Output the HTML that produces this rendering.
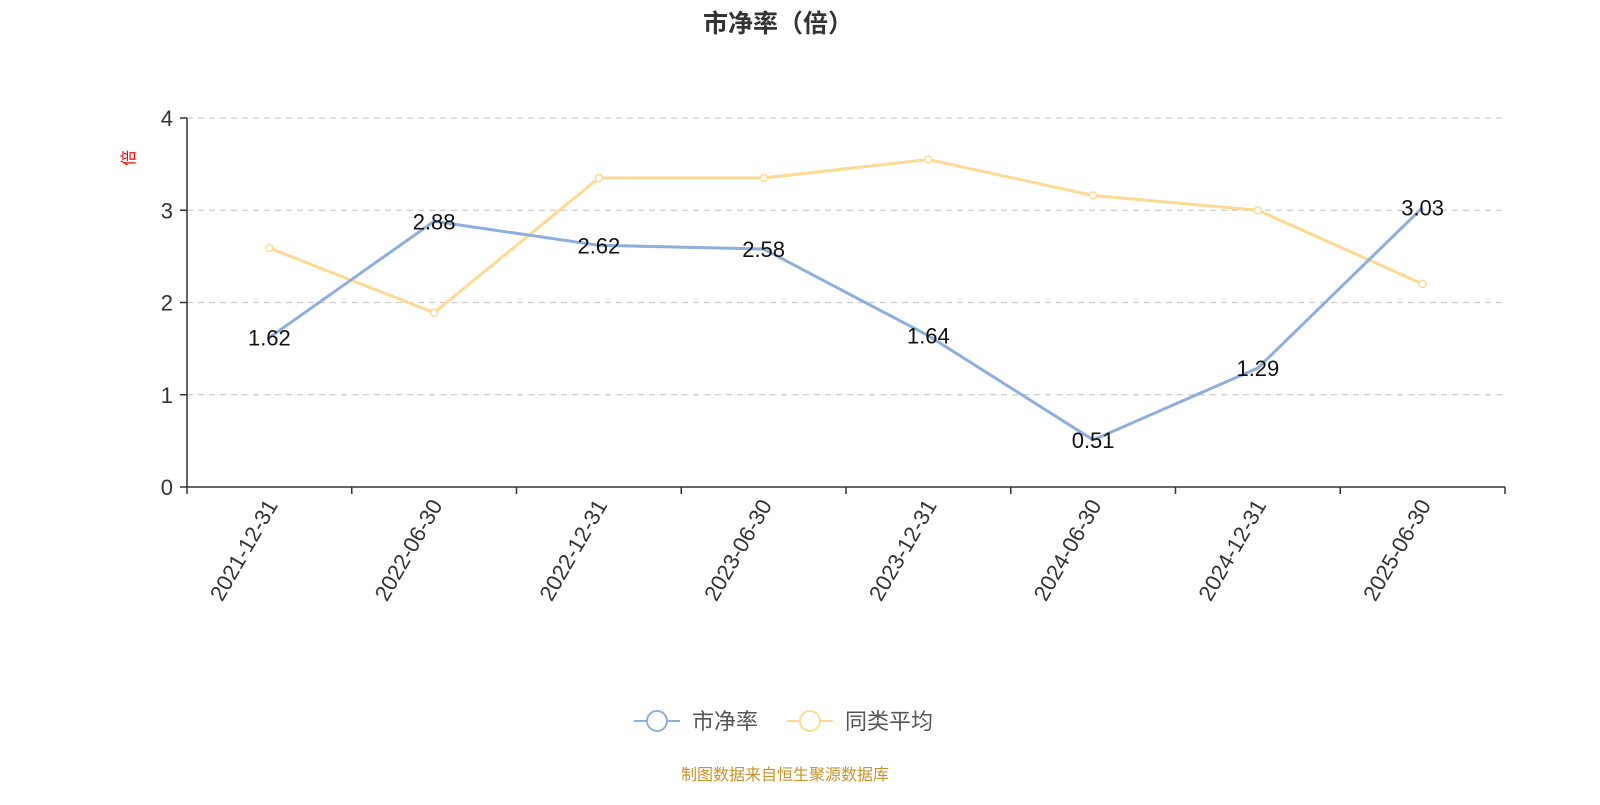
<!DOCTYPE html>
<html><head><meta charset="utf-8"><style>
body{margin:0;background:#fff;}
svg text{font-family:"Liberation Sans","Noto Sans CJK SC",sans-serif;}
</style></head><body>
<svg id="chart" width="1600" height="800" xmlns="http://www.w3.org/2000/svg">
<text x="778" y="32" text-anchor="middle" font-size="25" font-weight="bold" fill="#333">市净率（倍）</text>
<text transform="translate(134,158) rotate(-90)" text-anchor="middle" font-size="16" fill="#f00">倍</text>
<g id="grid"></g><g id="axes"></g><g id="series"></g>
<g>
 <g>
  <line x1="634" y1="721" x2="680" y2="721" stroke="#8eaedc" stroke-width="2"/>
  <circle cx="657" cy="721" r="10" fill="#fff" stroke="#8eaedc" stroke-width="2"/>
  <text x="692" y="729" font-size="22" fill="#555">市净率</text>
 </g>
 <g>
  <line x1="787" y1="721" x2="833" y2="721" stroke="#fdd993" stroke-width="2"/>
  <circle cx="810" cy="721" r="10" fill="#fff" stroke="#fdd993" stroke-width="2"/>
  <text x="845" y="729" font-size="22" fill="#555">同类平均</text>
 </g>
</g>
<text x="785" y="780" text-anchor="middle" font-size="16" fill="#c8922a">制图数据来自恒生聚源数据库</text>
</svg>
<script>
const categories=["2021-12-31","2022-06-30","2022-12-31","2023-06-30","2023-12-31","2024-06-30","2024-12-31","2025-06-30"];
const pbValues=[1.62,2.88,2.62,2.58,1.64,0.51,1.29,3.03];
const avgValues=[2.59,1.89,3.35,3.35,3.55,3.16,3.0,2.2];
const yTicks=[0,1,2,3,4];
const NS="http://www.w3.org/2000/svg";
const x0=187,x1=1505,y0=487,y1=118,yMax=4;
const band=(x1-x0)/categories.length;
const xs=i=>x0+band*(i+0.5);
const ys=v=>y0-(v/yMax)*(y0-y1);
function mk(tag,attrs,parent){const e=document.createElementNS(NS,tag);for(const k in attrs)e.setAttribute(k,attrs[k]);parent.appendChild(e);return e;}
const grid=document.getElementById('grid'),axes=document.getElementById('axes'),series=document.getElementById('series');
yTicks.forEach(t=>{
 const y=ys(t);
 if(t>0){const g=mk('line',{x1:x0,x2:x1,y1:y,y2:y,stroke:'#ccc','stroke-dasharray':'6,5','stroke-width':1.3},grid);
 
 }
 const tk=mk('line',{x1:x0-7,x2:x0,y1:y,y2:y,stroke:'#333','stroke-width':1.5},axes);
 
 
 const tx=mk('text',{x:x0-14,y:y+8,'text-anchor':'end','font-size':22,fill:'#333'},axes);
 tx.textContent=t;
 
 
});
const ya=mk('line',{x1:x0,x2:x0,y1:y1,y2:y0,stroke:'#333','stroke-width':1.5},axes);


const xa=mk('line',{x1:x0,x2:x1,y1:y0,y2:y0,stroke:'#333','stroke-width':1.5},axes);


for(let i=0;i<=categories.length;i++){
 const x=x0+band*i;
 const t=mk('line',{x1:x,x2:x,y1:y0,y2:y0+7,stroke:'#333','stroke-width':1.5},axes);
 
 
}
categories.forEach((c,i)=>{
 const x=xs(i);
 const t=mk('text',{x:0,y:0,'text-anchor':'end','font-size':22,fill:'#333',transform:`translate(${x+9},${y0+18}) rotate(-60)`},axes);
 t.textContent=c;
 
 
});
const pa=mk('polyline',{points:avgValues.map((v,i)=>xs(i)+','+ys(v)).join(' '),fill:'none',stroke:'#fdd993','stroke-width':3},series);


avgValues.forEach((v,i)=>{
 const c=mk('circle',{cx:xs(i),cy:ys(v),r:3.5,fill:'#fff',stroke:'#fdd993','stroke-width':1.5},series);
 
 
});
const pb=mk('polyline',{points:pbValues.map((v,i)=>xs(i)+','+ys(v)).join(' '),fill:'none',stroke:'#8eaedc','stroke-width':3},series);


pbValues.forEach((v,i)=>{
 const t=mk('text',{x:xs(i),y:ys(v)+8,'text-anchor':'middle','font-size':22,fill:'#111'},series);
 t.textContent=v.toFixed(2);
 
 
});
</script>
</body></html>
